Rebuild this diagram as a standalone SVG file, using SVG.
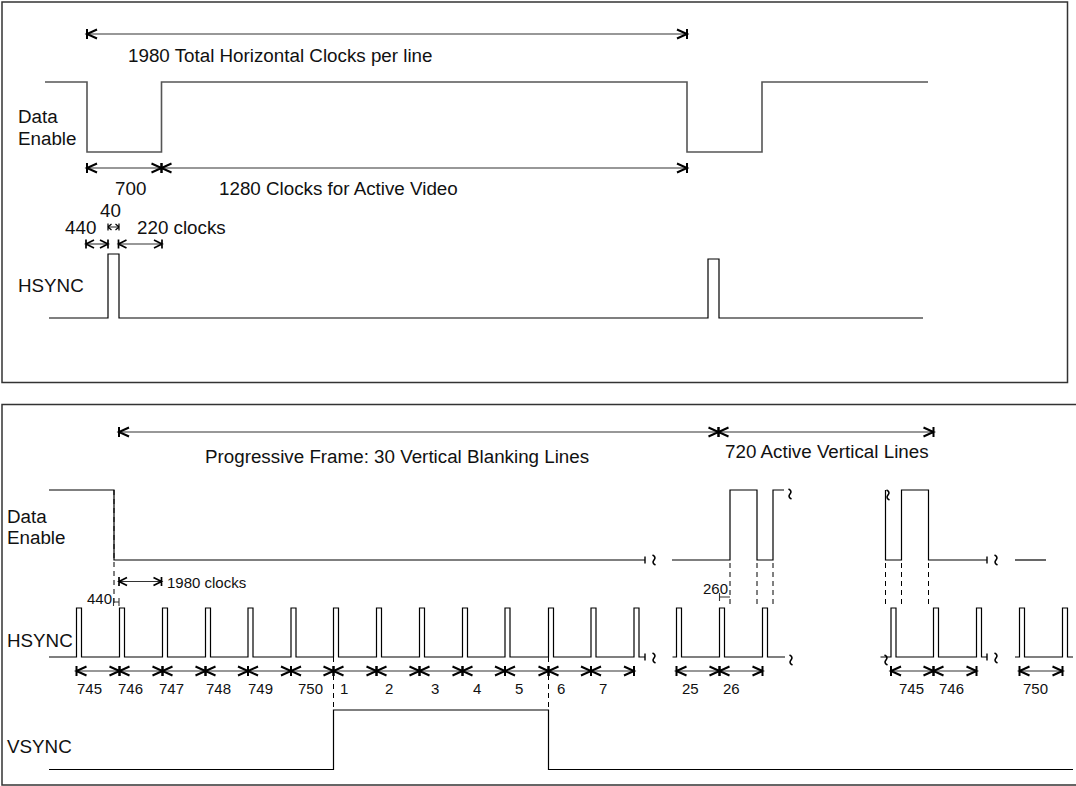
<svg xmlns="http://www.w3.org/2000/svg" xmlns:xlink="http://www.w3.org/1999/xlink" width="1076" height="786" viewBox="0 0 1076 786">
<style>
.t{font-family:"Liberation Sans",Arial,sans-serif;font-size:18.8px;fill:#111}
.s{font-family:"Liberation Sans",Arial,sans-serif;font-size:15px;fill:#111}
.n{font-family:"Liberation Sans",Arial,sans-serif;font-size:15px;fill:#111}
.panel{fill:none;stroke:#333;stroke-width:1.5}
.wg{fill:none;stroke:#555;stroke-width:1.6}
.wb{fill:none;stroke:#000;stroke-width:1.2}
.dash{fill:none;stroke:#000;stroke-width:1;stroke-dasharray:5 4}
.dim{fill:none;stroke:#333;stroke-width:1.1}
.a{marker-start:url(#ah);marker-end:url(#ah)}
.as{marker-start:url(#ahs);marker-end:url(#ahs)}
.at{marker-start:url(#aht);marker-end:url(#aht)}
</style>
<defs>
<marker id="ah" markerUnits="userSpaceOnUse" orient="auto-start-reverse" viewBox="-12 -12 24 24" refX="0" refY="0" markerWidth="24" markerHeight="24">
<path d="M-10,-4.5 L0,0 L-10,4.5 M0,-5 L0,5" fill="none" stroke="#000" stroke-width="2"/>
</marker>
<marker id="ahs" markerUnits="userSpaceOnUse" orient="auto-start-reverse" viewBox="-12 -12 24 24" refX="0" refY="0" markerWidth="24" markerHeight="24">
<path d="M-8,-4 L0,0 L-8,4 M0,-4.5 L0,4.5" fill="none" stroke="#000" stroke-width="1.7"/>
</marker>
<marker id="aht" markerUnits="userSpaceOnUse" orient="auto-start-reverse" viewBox="-12 -12 24 24" refX="0" refY="0" markerWidth="24" markerHeight="24">
<path d="M-3.5,-3 L0,0 L-3.5,3 M0,-3.5 L0,3.5" fill="none" stroke="#000" stroke-width="1.2"/>
</marker>
<path id="sq" d="M-1.5,-5 Q2.5,-3 0,0 Q-2.5,3 1.5,5" fill="none" stroke="#000" stroke-width="1.6"/>
<line id="tk" x1="0" y1="-3.5" x2="0" y2="3.5" stroke="#000" stroke-width="1.4"/>
</defs>
<rect id="bg" x="0" y="0" width="1076" height="786" fill="#fff"/>

<!-- TOP PANEL -->
<g id="top-panel">
<rect class="panel" x="2" y="2" width="1065.5" height="380.5"/>
<g id="top-labels">
<text class="t" x="128" y="62.3">1980 Total Horizontal Clocks per line</text>
<text class="t" x="18" y="123.3">Data</text>
<text class="t" x="18" y="145">Enable</text>
<text class="t" x="115" y="195">700</text>
<text class="t" x="219" y="195">1280 Clocks for Active Video</text>
<text class="t" x="100" y="217.3">40</text>
<text class="t" x="65" y="234">440</text>
<text class="t" x="137" y="234">220 clocks</text>
<text class="t" x="18" y="292.3">HSYNC</text>
</g>
<g id="top-data-enable">
<polyline class="wg" points="45,82 87,82 87,152 161.5,152 161.5,82 687,82 687,152 762,152 762,82 928,82"/>
</g>
<g id="top-hsync">
<polyline class="wb" points="49,318 108,318 108,254 119,254 119,318 708,318 708,259 719,259 719,318 923,318"/>
</g>
</g>

<!-- BOTTOM PANEL -->
<g id="bottom-panel">
<rect class="panel" x="2" y="404.5" width="1090" height="380.5"/>
<g id="bottom-labels">
<text class="t" x="205" y="463.3">Progressive Frame: 30 Vertical Blanking Lines</text>
<text class="t" x="725" y="458.3">720 Active Vertical Lines</text>
<text class="t" x="7" y="522.7">Data</text>
<text class="t" x="7" y="544">Enable</text>
<text class="s" x="167" y="587.7">1980 clocks</text>
<text class="n" x="87" y="604.3">440</text>
<text class="s" x="703" y="594">260</text>
<text class="t" x="7" y="646.7">HSYNC</text>
<text class="t" x="7" y="752.7">VSYNC</text>
<text class="n" x="77" y="694.3">745</text>
<text class="n" x="118" y="694.3">746</text>
<text class="n" x="159" y="694.3">747</text>
<text class="n" x="206" y="694.3">748</text>
<text class="n" x="248" y="694.3">749</text>
<text class="n" x="298" y="694.3">750</text>
<text class="n" x="340" y="694.3">1</text>
<text class="n" x="385" y="694.3">2</text>
<text class="n" x="431" y="694.3">3</text>
<text class="n" x="473" y="694.3">4</text>
<text class="n" x="515" y="694.3">5</text>
<text class="n" x="557" y="694.3">6</text>
<text class="n" x="599" y="694.3">7</text>
<text class="n" x="682" y="694.3">25</text>
<text class="n" x="723" y="694.3">26</text>
<text class="n" x="899" y="694.3">745</text>
<text class="n" x="939" y="694.3">746</text>
<text class="n" x="1023" y="694.3">750</text>
</g>
<g id="bottom-data-enable">
<polyline class="wb" points="49,490 114,490 114,560 645,560"/>
<use xlink:href="#tk" x="645" y="560"/>
<use xlink:href="#sq" x="654" y="560"/>
<polyline class="wb" points="672,560 730,560 730,490 757,490 757,560 773,560 773,490 784,490"/>
<use xlink:href="#sq" x="790" y="494"/>
<use xlink:href="#sq" x="888" y="495"/>
<polyline class="wb" points="885.5,490 885.5,560 901.5,560 901.5,490 928.5,490 928.5,560 987,560"/>
<use xlink:href="#tk" x="987" y="560"/>
<use xlink:href="#sq" x="996" y="560"/>
<polyline class="wb" points="1015,560 1046,560"/>
</g>
<g id="bottom-hsync">
<polyline class="wb" points="49,657 76.5,657 76.5,608 81.5,608 81.5,657 119.5,657 119.5,608 124.5,608 124.5,657 162.5,657 162.5,608 167.5,608 167.5,657 205.5,657 205.5,608 210.5,608 210.5,657 248,657 248,608 253,608 253,657 291,657 291,608 296,608 296,657 333.5,657 333.5,608 338.5,608 338.5,657 376.5,657 376.5,608 381.5,608 381.5,657 419.5,657 419.5,608 424.5,608 424.5,657 462.5,657 462.5,608 467.5,608 467.5,657 505,657 505,608 510,608 510,657 548.5,657 548.5,608 553.5,608 553.5,657 591,657 591,608 596,608 596,657 634,657 634,608 639,608 639,657 645,657"/>
<use xlink:href="#tk" x="645" y="657"/>
<use xlink:href="#sq" x="654" y="658"/>
<polyline class="wb" points="672.5,657 676.5,657 676.5,608 681.5,608 681.5,657 719.5,657 719.5,608 724.5,608 724.5,657 762.5,657 762.5,608 767.5,608 767.5,657 785,657"/>
<use xlink:href="#sq" x="791" y="660"/>
<use xlink:href="#sq" x="886" y="660"/>
<polyline class="wb" points="880.5,657 891,657 891,608 896,608 896,657 933.5,657 933.5,608 938.5,608 938.5,657 976.5,657 976.5,608 981.5,608 981.5,657 987,657"/>
<use xlink:href="#tk" x="987" y="657"/>
<use xlink:href="#sq" x="996" y="658"/>
<polyline class="wb" points="1015,657 1019.5,657 1019.5,608 1024.5,608 1024.5,657 1062.5,657 1062.5,608 1067.5,608 1067.5,657 1073,657"/>
</g>
<g id="bottom-vsync">
<polyline class="wb" points="49,769.5 333.5,769.5 333.5,710 548.5,710 548.5,769.5 1073,769.5"/>
</g>
<g id="guides">
<line class="dash" x1="114" y1="490" x2="114" y2="607"/>
<line class="dash" x1="730" y1="563" x2="730" y2="608"/>
<line class="dash" x1="757" y1="563" x2="757" y2="608"/>
<line class="dash" x1="773" y1="563" x2="773" y2="608"/>
<line class="dash" x1="885.5" y1="563" x2="885.5" y2="608"/>
<line class="dash" x1="901.5" y1="563" x2="901.5" y2="608"/>
<line class="dash" x1="928.5" y1="563" x2="928.5" y2="608"/>
<line class="dash" x1="333.5" y1="657" x2="333.5" y2="710"/>
<line class="dash" x1="548.5" y1="657" x2="548.5" y2="710"/>
<path class="dim" d="M113.5,598 V606 M119,598 V606 M113.5,602 H119"/>
<path class="dim" d="M719.5,593 V601 M719.5,597 H730"/>
</g>
</g>

<!-- CONNECTORS: dimension arrows -->
<g id="connectors">
<line class="dim a" x1="87" y1="34" x2="687" y2="34"/>
<line class="dim a" x1="87" y1="168" x2="161.5" y2="168"/>
<line class="dim a" x1="161.5" y1="168" x2="687" y2="168"/>
<line class="dim as" x1="86" y1="244" x2="108" y2="244"/>
<line class="dim as" x1="118.5" y1="244" x2="162" y2="244"/>
<line class="dim at" x1="108" y1="227" x2="119" y2="227"/>
<line class="dim a" x1="119" y1="432" x2="718.5" y2="432"/>
<line class="dim a" x1="718.5" y1="432" x2="933.5" y2="432"/>
<line class="dim as" x1="119" y1="581.5" x2="161.5" y2="581.5"/>
<line class="dim a" x1="76.5" y1="671" x2="119.5" y2="671"/>
<line class="dim a" x1="119.5" y1="671" x2="162.5" y2="671"/>
<line class="dim a" x1="162.5" y1="671" x2="205.5" y2="671"/>
<line class="dim a" x1="205.5" y1="671" x2="248" y2="671"/>
<line class="dim a" x1="248" y1="671" x2="291" y2="671"/>
<line class="dim a" x1="291" y1="671" x2="333.5" y2="671"/>
<line class="dim a" x1="333.5" y1="671" x2="376.5" y2="671"/>
<line class="dim a" x1="376.5" y1="671" x2="419.5" y2="671"/>
<line class="dim a" x1="419.5" y1="671" x2="462.5" y2="671"/>
<line class="dim a" x1="462.5" y1="671" x2="505" y2="671"/>
<line class="dim a" x1="505" y1="671" x2="548.5" y2="671"/>
<line class="dim a" x1="548.5" y1="671" x2="591" y2="671"/>
<line class="dim a" x1="591" y1="671" x2="634" y2="671"/>
<line class="dim a" x1="676.5" y1="671" x2="719.5" y2="671"/>
<line class="dim a" x1="719.5" y1="671" x2="762.5" y2="671"/>
<line class="dim a" x1="891" y1="671" x2="933.5" y2="671"/>
<line class="dim a" x1="933.5" y1="671" x2="976.5" y2="671"/>
<line class="dim a" x1="1019.5" y1="671" x2="1062.5" y2="671"/>
</g>
</svg>
